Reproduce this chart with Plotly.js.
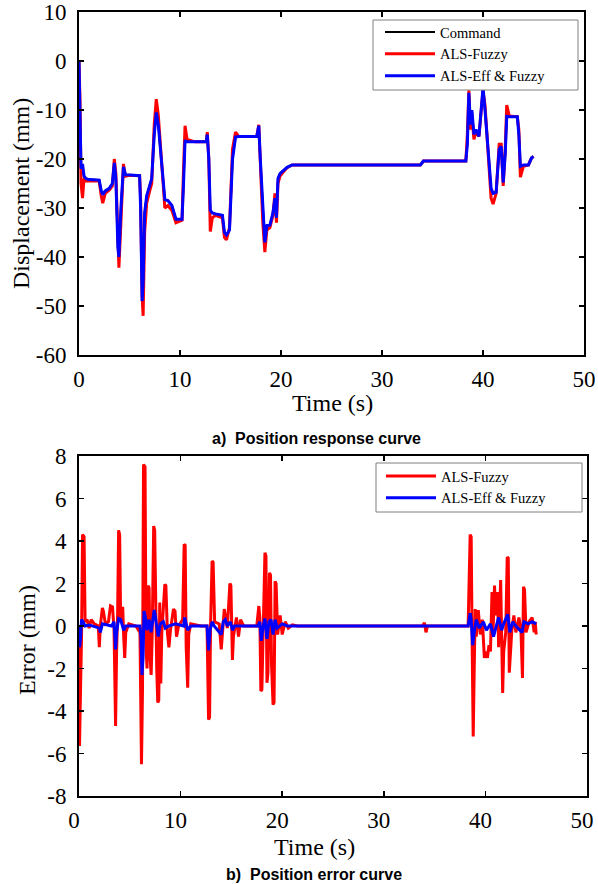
<!DOCTYPE html>
<html>
<head>
<meta charset="utf-8">
<script src="https://cdn.plot.ly/plotly-3.0.1.min.js"></script>
<style>html,body{margin:0;padding:0;background:#fff;}#chart{width:598px;height:884px;}</style>
</head>
<body>
<div id="chart"></div>
<script>
// ---- a) Position response curve ----
const time = [
  0, 0.1, 0.2, 0.35, 0.5, 0.7, 1.0, 2.0, 2.2, 2.35,
  2.6, 3.0, 3.3, 3.5, 3.65, 3.85, 3.95, 4.15, 4.4, 4.6,
  5.0, 6.0, 6.1, 6.25, 6.35, 6.5, 6.7, 7.0, 7.2, 7.45,
  7.65, 7.85, 8.1, 8.3, 8.5, 8.8, 9.2, 9.6, 10.2, 10.35,
  10.5, 10.7, 11.5, 12.6, 12.7, 12.85, 13.0, 13.2, 13.5, 14.2,
  14.4, 14.6, 14.9, 15.2, 15.5, 15.8, 17.6, 17.8, 17.95, 18.2,
  18.4, 18.6, 18.9, 19.2, 19.4, 19.55, 19.7, 19.9, 20.2, 20.6,
  21.1, 33.8, 34.1, 38.3, 38.45, 38.6, 38.75, 38.9, 39.1, 39.3,
  39.6, 39.8, 40.0, 40.2, 40.5, 40.8, 41.0, 41.3, 41.6, 41.8,
  42.0, 42.2, 42.35, 42.6, 43.4, 43.55, 43.7, 44.0, 44.5, 44.8,
  45.0
];
const command = [
  0, -15, -22, -22, -23.8, -24, -24.2, -24.3, -26.5, -27,
  -26.5, -26, -25, -21, -24, -38, -39.5, -30, -22, -23.2,
  -23.3, -23.4, -30, -49, -46, -31, -27.5, -25.5, -24, -15,
  -10.5, -13, -19.5, -23, -28.3, -28.5, -29.5, -32.3, -32.3, -25,
  -16.2, -16.5, -16.5, -16.5, -15, -20, -30.5, -31, -31.2, -31.5,
  -35, -35.5, -34.5, -20, -15.5, -15.4, -15.4, -13.5, -20, -30,
  -37, -33.6, -33.5, -31, -28, -32, -24, -23, -22.5, -21.7,
  -21.2, -21.2, -20.4, -20.4, -17, -6.5, -13, -10, -15, -14,
  -15.4, -11, -5.5, -10, -18, -26, -27, -26.8, -18, -17.4,
  -24.8, -19, -11.3, -11.4, -11.4, -15, -21.5, -21.2, -21.2, -19.8,
  -19.5
];
const alsFuzzy = [
  0, -8, -25, -28, -24, -24.5, -24.5, -24.5, -27.5, -29,
  -27, -26.3, -25.5, -20, -23, -39, -42.2, -33, -21, -23.5,
  -23.3, -23.4, -28, -48, -52, -35, -29, -26.5, -25, -13,
  -7.8, -11, -19, -24, -30, -29.5, -30.5, -33, -32.5, -22,
  -13.2, -16, -16.5, -16.5, -14.5, -20, -34.8, -32, -31.5, -32,
  -36, -36.5, -34, -18, -14.5, -15.4, -15.4, -13, -22, -33,
  -39, -34.5, -34, -31.5, -27, -33, -25, -23.5, -22.7, -21.8,
  -21.2, -21.2, -20.4, -20.4, -15, -6, -14, -11, -16, -14.5,
  -15.4, -10, -6, -9, -19, -28, -29.2, -27, -17, -17,
  -25.5, -18, -9, -11.2, -11.4, -14, -23.7, -21.5, -21.2, -19.8,
  -19.5
];
const alsEffFuzzy = [
  0, -12, -22, -21, -23.5, -24, -24.2, -24.3, -26.5, -27.3,
  -26.5, -26, -25, -20.8, -24, -38, -40, -30, -21.6, -23.2,
  -23.3, -23.4, -30, -49, -45, -31, -27.5, -25.5, -24, -15,
  -10.5, -13, -19.5, -23, -28.3, -28.5, -29.5, -32.3, -32.3, -25,
  -16.2, -16.5, -16.5, -16.5, -15, -20, -30.5, -31, -31.2, -31.5,
  -35, -35.5, -34.5, -20, -15.5, -15.4, -15.4, -13.2, -20, -30,
  -37, -33.6, -33.5, -31, -28, -32, -24, -23, -22.5, -21.7,
  -21.2, -21.2, -20.4, -20.4, -17, -6.5, -13, -10, -15, -14,
  -15.4, -11, -5.5, -10, -18, -26, -27, -26.8, -18, -17.4,
  -24.8, -19, -11.3, -11.4, -11.4, -15, -21.5, -21.2, -21.2, -19.8,
  -19.5
];

// ---- b) Position error curve ----
const errTimeFuzzy = [
  0, 0.05, 0.15, 0.25, 0.35, 0.5, 0.6, 0.8, 1.0, 1.2,
  1.5, 1.9, 2.0, 2.1, 2.3, 2.4, 2.6, 2.9, 3.1, 3.3,
  3.45, 3.6, 3.7, 3.8, 3.9, 4.0, 4.1, 4.3, 4.4, 4.5,
  4.6, 4.9, 5.6, 6.0, 6.15, 6.25, 6.35, 6.5, 6.6, 6.7,
  6.8, 6.9, 7.0, 7.1, 7.2, 7.35, 7.45, 7.55, 7.65, 7.75,
  7.85, 7.95, 8.05, 8.15, 8.3, 8.45, 8.55, 8.7, 8.85, 9.0,
  9.3, 9.45, 9.6, 9.8, 10.2, 10.35, 10.45, 10.55, 10.7, 10.8,
  11.0, 12.0, 12.6, 12.75, 12.85, 12.95, 13.1, 13.2, 13.35, 13.8,
  14.0, 14.1, 14.3, 14.4, 14.6, 14.85, 14.95, 15.1, 15.2, 15.5,
  15.7, 15.9, 16.2, 17.5, 17.7, 17.8, 17.9, 18.0, 18.1, 18.3,
  18.4, 18.5, 18.6, 18.75, 18.85, 18.95, 19.1, 19.2, 19.3, 19.4,
  19.55, 19.8, 20.0, 20.3, 20.6, 21.0, 21.5, 33.8, 34.0, 34.15,
  34.3, 38.3, 38.5, 38.6, 38.7, 38.8, 38.9, 39.0, 39.1, 39.3,
  39.5, 39.7, 39.9, 40.05, 40.2, 40.35, 40.5, 40.65, 40.75, 40.9,
  41.0, 41.2, 41.3, 41.5, 41.6, 41.7, 41.8, 42.0, 42.15, 42.25,
  42.35, 42.45, 42.6, 42.8, 43.0, 43.3, 43.5, 43.65, 43.75, 43.85,
  44.0, 44.3, 44.6, 44.8, 44.9, 45.0
];
const errFuzzy = [
  0, -5.65, -3, -0.5, 4.3, 4.2, 0.2, 0.3, -0.1, 0.3,
  0.1, 0, -1.0, 0, 0.85, 0.7, 0.1, 0.2, 0.95, 0.9,
  -0.2, -4.7, -1.2, 0.5, 4.5, 4.3, 0.2, 0.9, -0.5, -1.5,
  -0.3, 0.1, 0, -0.3, -6.5, -3, 7.6, 7.5, -1.0, -2.0,
  1.9, 1.8, -1.5, -2.3, -0.5, 4.7, 4.5, 0.5, -2.0, -3.6,
  -3.5, 1.1, -2.7, -0.3, 1.0, 1.96, 1.9, -0.3, -1.0, -0.2,
  0.8, 0.7, -0.5, 0, 0.3, 3.85, 3.8, -1, -2.9, -0.4,
  0.1, 0, 0, -4.4, -4.3, 0, 3.06, 3.0, 0.2, 0.1,
  -1.1, -0.4, 0.8, 0.5, -0.1, 2.0, 1.9, -1.6, -0.5, 0.4,
  -0.5, 0.3, 0, 0, 0.94, 0.4, -3.06, -3.0, -0.5, 3.45,
  3.3, -2.67, -2.2, 2.5, 2.4, -1.8, -3.7, -3.6, 2.1, 2.0,
  -0.4, 0.5, -0.4, 0.2, -0.1, 0.05, 0, 0, 0.15, -0.3,
  0, 0, 4.3, 4.2, -1, -5.2, -2.0, 0.8, -0.5, 0.75,
  -0.4, 0.3, -1.5, -1.2, -1.5, -0.9, -1.2, 1.6, -0.3, 1.9,
  0.5, 1.6, -1.0, 2.16, -0.5, -3.15, -1.2, -0.3, 3.25, 3.2,
  -2.2, -1.5, -0.2, 0.5, -0.3, 0.4, -0.2, -2.45, 1.85, 1.7,
  -0.3, 0.2, 0.4, -0.3, 0.2, -0.4
];
const errTimeEff = [
  0, 0.05, 0.15, 0.25, 0.4, 0.6, 1.0, 2.0, 2.1, 2.3,
  3.2, 3.45, 3.6, 3.7, 3.9, 4.1, 4.4, 4.6, 6.0, 6.1,
  6.2, 6.3, 6.4, 6.5, 6.7, 6.9, 7.1, 7.4, 7.5, 7.7,
  7.8, 8.0, 8.3, 8.5, 8.8, 9.5, 10.3, 10.4, 10.55, 10.7,
  11.0, 12.6, 12.75, 12.9, 13.1, 13.3, 14.0, 14.2, 14.4, 14.6,
  14.9, 15.1, 15.3, 17.6, 17.8, 17.95, 18.1, 18.3, 18.5, 18.7,
  18.9, 19.1, 19.3, 19.5, 20.0, 20.5, 38.3, 38.5, 38.6, 38.75,
  38.9, 39.1, 39.4, 39.8, 40.1, 40.5, 40.8, 41.0, 41.3, 41.6,
  41.8, 42.2, 42.4, 42.7, 43.0, 43.6, 43.8, 44.2, 44.6, 45.0
];
const errEff = [
  0, -1.0, -0.6, 0.3, 0.2, 0, 0.05, -0.1, -0.3, 0.1,
  0, 0.2, -1.1, -0.3, 0.35, 0.3, -0.2, 0, 0, -0.5,
  -2.3, -1.5, 0.7, 0.5, -0.2, 0.3, -0.3, 0.75, 0.5, -0.3,
  -0.5, 0.1, 0.2, -0.1, 0, 0.1, 0, 0.4, 0, -0.2,
  0, 0, -1.15, -0.2, 0.2, 0, -0.4, 0.2, 0.3, 0,
  0.2, -0.2, 0, 0, 0.2, -0.7, -0.1, 0.35, -0.6, 0.2,
  0.3, -0.4, 0.3, -0.1, 0.1, 0, 0, 0.6, 0.3, -0.9,
  -0.3, 0.3, -0.1, 0.2, -0.2, 0.1, -0.5, -0.1, 0.4, -0.2,
  0.1, 0.55, -0.3, 0.2, 0, -0.3, 0.2, 0.1, 0.2, 0.1
];

const xTicks = [0, 10, 20, 30, 40, 50];
const yTicksTop = [-60, -50, -40, -30, -20, -10, 0, 10];
const yTicksBottom = [-8, -6, -4, -2, 0, 2, 4, 6, 8];

const serif = 'Liberation Serif, Times New Roman, serif';
const sans = 'Liberation Sans, Arial, sans-serif';
const RED = '#ff0000', BLUE = '#0000ff', BLACK = '#000000';

const traces = [
  {x: time, y: command, name: 'Command', type: 'scatter', mode: 'lines',
   line: {color: BLACK, width: 2}, xaxis: 'x', yaxis: 'y', legend: 'legend'},
  {x: time, y: alsFuzzy, name: 'ALS-Fuzzy', type: 'scatter', mode: 'lines',
   line: {color: RED, width: 3}, xaxis: 'x', yaxis: 'y', legend: 'legend'},
  {x: time, y: alsEffFuzzy, name: 'ALS-Eff & Fuzzy', type: 'scatter', mode: 'lines',
   line: {color: BLUE, width: 3}, xaxis: 'x', yaxis: 'y', legend: 'legend'},
  {x: errTimeFuzzy, y: errFuzzy, name: 'ALS-Fuzzy', type: 'scatter', mode: 'lines',
   line: {color: RED, width: 3}, xaxis: 'x2', yaxis: 'y2', legend: 'legend2'},
  {x: errTimeEff, y: errEff, name: 'ALS-Eff & Fuzzy', type: 'scatter', mode: 'lines',
   line: {color: BLUE, width: 3}, xaxis: 'x2', yaxis: 'y2', legend: 'legend2'}
];

function axisBase(standoff) {
  return {
    showline: true, linecolor: BLACK, linewidth: 2, mirror: 'ticks',
    ticks: 'inside', ticklen: 5, tickwidth: 1.5, tickcolor: BLACK,
    showgrid: false, zeroline: false,
    tickfont: {family: serif, size: 23, color: BLACK},
    ticklabelstandoff: standoff
  };
}

const W = 598, H = 884;
const px = v => v / W;
const py = v => 1 - v / H;

function legendBox(x0, y0, x1, y1) {
  return {type: 'rect', xref: 'paper', yref: 'paper', layer: 'above',
    x0: px(x0), x1: px(x1), y0: py(y1), y1: py(y0),
    fillcolor: '#ffffff', line: {color: '#808080', width: 1}};
}
function label(text, x, y, size, family, angle) {
  return {text: text, xref: 'paper', yref: 'paper', x: px(x), y: py(y),
    xanchor: 'center', yanchor: 'middle', showarrow: false, textangle: angle || 0,
    font: {family: family, size: size, color: BLACK}};
}

const layout = {
  width: W, height: H,
  margin: {l: 0, r: 0, t: 0, b: 0},
  paper_bgcolor: '#fff', plot_bgcolor: '#fff',
  showlegend: true,
  xaxis: Object.assign(axisBase(2), {
    domain: [px(79), px(584)], range: [0, 50], anchor: 'y',
    tickvals: xTicks, ticktext: xTicks.map(String)
  }),
  yaxis: Object.assign(axisBase(6), {
    domain: [py(355), py(12)], range: [-60, 10], anchor: 'x',
    tickvals: yTicksTop, ticktext: yTicksTop.map(String)
  }),
  xaxis2: Object.assign(axisBase(2), {
    domain: [px(79), px(587)], range: [0, 50], anchor: 'y2',
    tickvals: xTicks, ticktext: xTicks.map(String),
    ticklabelshift: -5
  }),
  yaxis2: Object.assign(axisBase(6), {
    domain: [py(796), py(456)], range: [-8, 8], anchor: 'x2',
    tickvals: yTicksBottom, ticktext: yTicksBottom.map(String)
  }),
  legend: {
    x: px(380), xanchor: 'left', y: py(16), yanchor: 'top',
    bgcolor: 'rgba(0,0,0,0)', borderwidth: 0,
    font: {family: serif, size: 14.5, color: BLACK}, itemwidth: 50,
    tracegroupgap: 0
  },
  legend2: {
    x: px(381), xanchor: 'left', y: py(460), yanchor: 'top',
    bgcolor: 'rgba(0,0,0,0)', borderwidth: 0,
    font: {family: serif, size: 14.5, color: BLACK}, itemwidth: 50,
    tracegroupgap: 0
  },
  shapes: [legendBox(373, 20, 578, 90), legendBox(376, 463, 582, 512)],
  annotations: [
    label('Time (s)', 332, 403, 24, serif),
    label('Displacement (mm)', 21, 194, 24, serif, -90),
    label('Time (s)', 314, 847, 24, serif),
    label('Error (mm)', 27, 640, 24, serif, -90),
    label('<b>a)\u00a0\u00a0Position response curve</b>', 316, 438, 16, sans),
    label('<b>b)\u00a0\u00a0Position error curve</b>', 314, 874, 16, sans)
  ]
};

Plotly.newPlot('chart', traces, layout, {displayModeBar: false, staticPlot: true});
</script>
</body>
</html>
